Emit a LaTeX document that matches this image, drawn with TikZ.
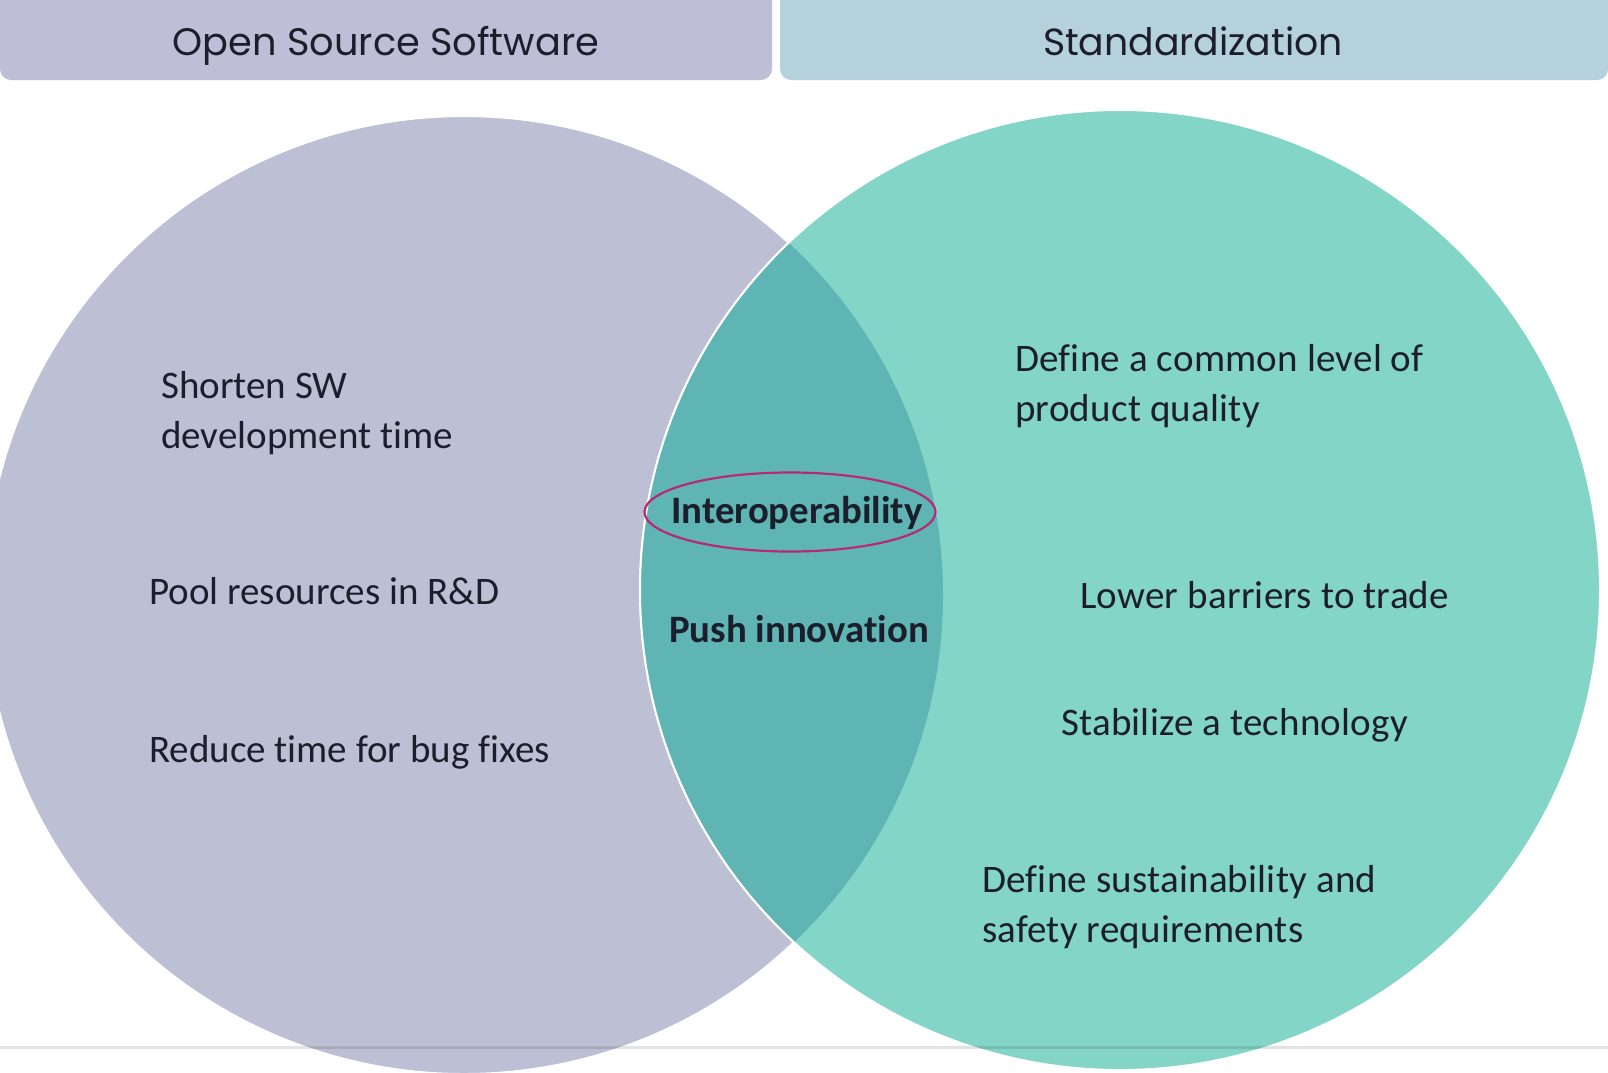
\documentclass[tikz,border=0pt]{standalone}
\usepackage{fontspec}
\setmainfont{Carlito}[Ligatures=NoCommon]
\newfontfamily\headfont{Poppins}
\newfontfamily\widefont{Carlito}[LetterSpace=0.6,Ligatures=NoCommon]
\usetikzlibrary{shapes.geometric}
\definecolor{lav}{HTML}{BDBFD5}
\definecolor{mint}{HTML}{82D5C7}
\definecolor{lenscol}{HTML}{5EB5B3}
\definecolor{hdrL}{HTML}{BEBFD6}
\definecolor{hdrR}{HTML}{B5D2DC}
\definecolor{ink}{HTML}{1C1E2B}
\definecolor{ring}{HTML}{B62A74}
\begin{document}
\begin{tikzpicture}[x=1pt,y=-1pt,
  hdrtext/.style={font=\headfont\fontsize{38.3}{42}\selectfont, text=ink, inner sep=0pt, anchor=base},
  bodytext/.style={font=\fontsize{39}{50}\selectfont, text=ink, align=left, anchor=west, inner sep=0pt},
  widetext/.style={font=\widefont\fontsize{39}{50}\selectfont, text=ink, align=left, anchor=west, inner sep=0pt},
  boldtext/.style={font=\bfseries\fontsize{38.8}{50}\selectfont, text=ink, inner sep=0pt},
  outl/.style={draw=white, line width=2pt}
]
\useasboundingbox (0,0) rectangle (1608,1072);
\clip (0,0) rectangle (1608,1072);
\fill[white] (0,0) rectangle (1608,1072);
% headers
\fill[hdrL, rounded corners=11pt] (0,-20) rectangle (772,80);
\fill[hdrR, rounded corners=11pt] (780,-20) rectangle (1608,80);
\node[hdrtext] (hL) at (386,55) {Open Source Software};
\node[hdrtext, font=\headfont\fontsize{37.8}{42}\selectfont] (hR) at (1193,55) {Standardization};
% circles
\coordinate (cL) at (464,595);
\coordinate (cR) at (1120,590);
\fill[lav] (cL) circle[radius=479pt];
\draw[outl] (cL) circle[radius=479pt];
\fill[mint] (cR) circle[radius=480pt];
\draw[outl] (cR) circle[radius=480pt];
\begin{scope}
  \clip (cL) circle[radius=479pt];
  \fill[lenscol] (cR) circle[radius=480pt];
  \draw[outl] (cR) circle[radius=480pt];
\end{scope}
% bottom rule
\draw[black, opacity=0.11, line width=3pt] (0,1047) -- (1608,1047);
% left texts
\node[bodytext] (t1) at (161,413) {Shorten SW\\development time};
\node[bodytext] (t2) at (149,591) {Pool resources in R\&D};
\node[bodytext] (t3) at (149,752) {Reduce time for bug fixes};
% lens
\node[draw=ring, line width=2.2pt, ellipse, minimum width=291pt, minimum height=79pt, inner sep=0pt] (ringe) at (790,512) {};
\node[boldtext] (t4) at (797,513) {Interoperability};
\node[boldtext] (t5) at (799,629) {Push innovation};
% right texts
\node[widetext] (t6) at (1015,386) {Define a common level of\\product quality};
\node[widetext] (t7) at (1080,595) {Lower barriers to trade};
\node[widetext] (t8) at (1061,725) {Stabilize a technology};
\node[widetext] (t9) at (982,907) {Define sustainability and\\safety requirements};
\end{tikzpicture}
\end{document}
